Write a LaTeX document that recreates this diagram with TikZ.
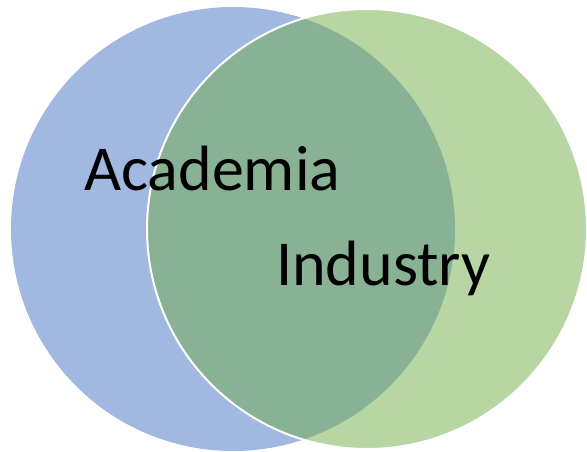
\documentclass[tikz,border=0pt]{standalone}
\usepackage{fontspec}
\setmainfont{Carlito}
\definecolor{acablue}{RGB}{161,184,225}
\definecolor{indgreen}{RGB}{112,173,71}
\begin{document}
\begin{tikzpicture}[x=1pt,y=1pt,
  label/.style={inner sep=0pt, anchor=base west, font=\fontsize{64}{70}\selectfont, text=black}]
  \useasboundingbox (0,0) rectangle (587,451);
  % Academia set
  \fill[acablue] (233,222) circle [radius=222];
  % Industry set, translucent with a white rim
  \filldraw[fill=indgreen, fill opacity=0.5, draw=white, line width=2pt] (367,222) circle [radius=220];
  \node[label] (aca) at (84,261) {Academia};
  \node[label] (ind) at (276,166) {Industry};
\end{tikzpicture}
\end{document}
